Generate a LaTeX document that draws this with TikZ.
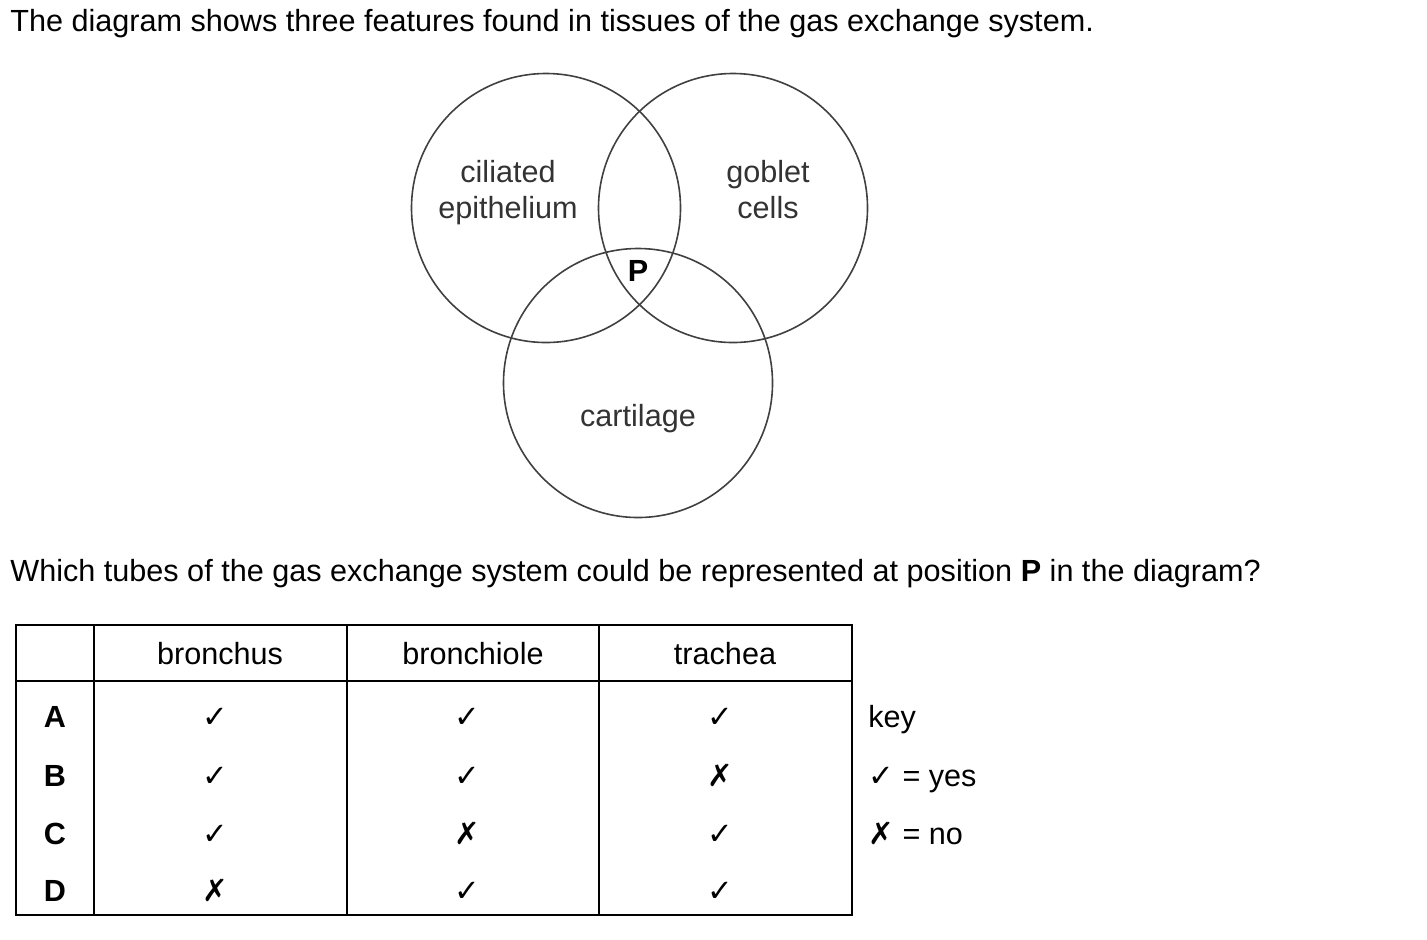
\documentclass[tikz,border=0pt]{standalone}
\usepackage{fontspec}
\setmainfont{Liberation Sans}
\newfontfamily\symfont{DejaVu Sans}
\usetikzlibrary{positioning}

\newcommand{\yes}{{\symfont ✓}}
\newcommand{\no}{{\symfont ✗}}

\begin{document}
\begin{tikzpicture}[
    x=0.5pt, y=-0.5pt,
    font=\fontsize{15.3}{18}\selectfont,
    ring/.style={circle, draw=black!75, line width=0.8pt, minimum size=134.5pt, inner sep=0pt},
    lbl/.style={align=center, text=black!80, inner sep=0pt},
    txt/.style={anchor=base west, inner sep=0pt},
    cell/.style={anchor=base, inner sep=0pt},
    grid/.style={line width=1.2pt}
  ]
  \useasboundingbox (0,0) rectangle (1427,939);

  % question text
  \node[txt] (intro) at (10,31) {The diagram shows three features found in tissues of the gas exchange system.};
  \node[txt] (ask)   at (10,581) {Which tubes of the gas exchange system could be represented at position \textbf{P} in the diagram?};

  % venn diagram
  \node[ring] (cil)  at (546,208) {};
  \node[ring] (gob)  at (733,208) {};
  \node[ring] (cart) at (638,383) {};
  \node[lbl] (cil-lbl)  at (508,193) {ciliated\\epithelium};
  \node[lbl] (gob-lbl)  at (768,190) {goblet\\cells};
  \node[lbl] (cart-lbl) at (638,419) {cartilage};
  \node[lbl, text=black, font=\fontsize{15.3}{18}\selectfont\bfseries] (p) at (638,271) {P};

  % table grid
  \draw[grid] (16,625) rectangle (852,915);
  \draw[grid] (16,681) -- (852,681);
  \foreach \x in {94,347,599}
    \draw[grid] (\x,625) -- (\x,915);

  % header
  \node[cell] (h-bronchus)   at (220,664) {bronchus};
  \node[cell] (h-bronchiole) at (473,664) {bronchiole};
  \node[cell] (h-trachea)    at (725,664) {trachea};

  % rows
  \foreach \row/\y/\a/\b/\c in {A/727/\yes/\yes/\yes, B/786/\yes/\yes/\no,
                                C/844/\yes/\no/\yes, D/901/\no/\yes/\yes} {
    \node[cell, font=\fontsize{15.3}{18}\selectfont\bfseries] (\row) at (55,\y) {\row};
    \node[cell] (\row-bronchus)   at (215,\y) {\a};
    \node[cell] (\row-bronchiole) at (467,\y) {\b};
    \node[cell] (\row-trachea)    at (720,\y) {\c};
  }

  % key
  \node[txt] (key)     at (868,727) {key};
  \node[txt] (key-yes) at (868,786) {\yes{} = yes};
  \node[txt] (key-no)  at (868,844) {\no{} = no};
\end{tikzpicture}
\end{document}
